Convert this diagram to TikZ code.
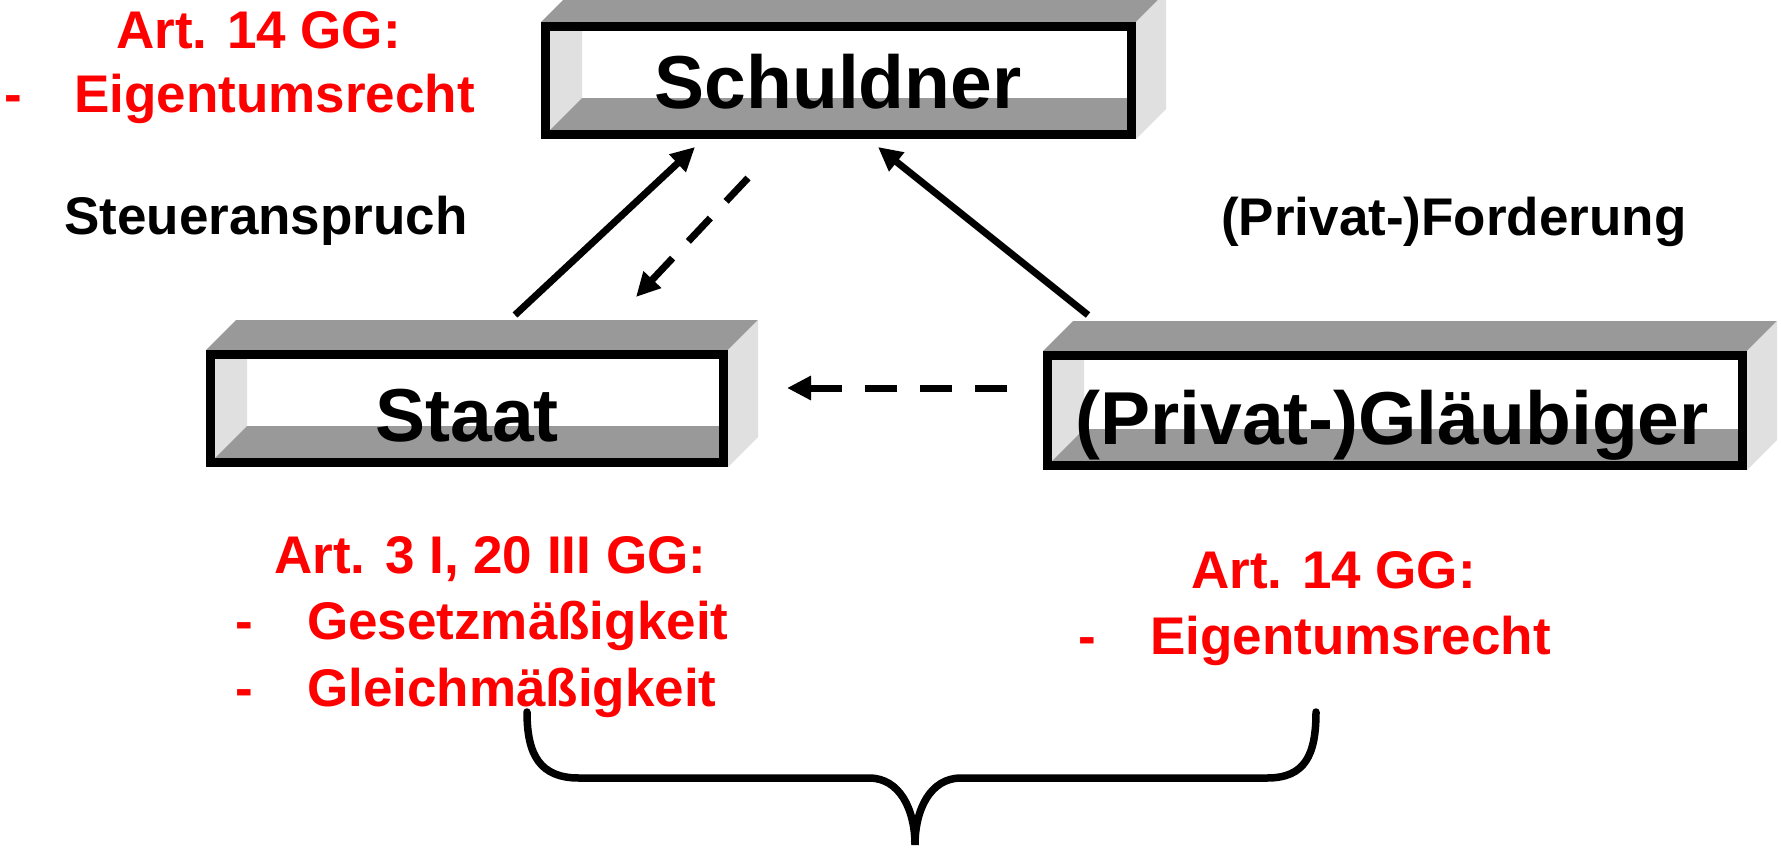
\documentclass[tikz,border=0pt]{standalone}
\usepackage{fontspec}
\setmainfont{Liberation Sans}
\usetikzlibrary{arrows.meta}
\definecolor{lawred}{RGB}{255,0,0}
\definecolor{facegray}{RGB}{153,153,153}
\definecolor{sidegray}{RGB}{224,224,224}

\tikzset{
  bigtxt/.style={font=\fontsize{75}{80}\selectfont\bfseries, inner sep=0pt, anchor=base},
  smalltxt/.style={font=\fontsize{53}{60}\selectfont\bfseries, inner sep=0pt, anchor=base west},
  redtxt/.style={smalltxt, text=lawred},
  frame/.style={draw=black, line width=9pt, inner sep=0pt},
  rel/.style={line width=7pt, -{Triangle[length=24pt,width=23pt]}},
  reldash/.style={rel, dash pattern=on 32pt off 23pt},
  bracket/.style={line width=7.5pt, line cap=round},
}

% open 3D crate: name, left, top, right, bottom, label x, label baseline, label
\newcommand\crate[8]{%
  \fill[facegray] (#2,#3) -- (#2+30,#3-30) -- (#4+30,#3-30) -- (#4,#3) -- cycle;
  \fill[sidegray] (#4,#3) -- (#4+30,#3-30) -- (#4+30,#5-30) -- (#4,#5) -- cycle;
  \fill[white] (#2,#3) rectangle (#4,#5);
  \fill[sidegray] (#2+9,#3+9) -- (#2+41,#3+9) -- (#2+41,#5-41) -- (#2+9,#5-9) -- cycle;
  \fill[facegray] (#2+9,#5-9) -- (#2+41,#5-41) -- (#4-9,#5-41) -- (#4-9,#5-9) -- cycle;
  \node[frame, minimum width={#4-#2-9}, minimum height={#5-#3-9}] (#1) at ({(#2+#4)/2},{(#3+#5)/2}) {};
  \node[bigtxt] (#1text) at (#6,#7) {#8};
}

\begin{document}
\begin{tikzpicture}[x=1pt,y=-1pt]
\useasboundingbox (0,0) rectangle (1781,847);
\clip (0,0) rectangle (1781,847);

\crate{schuldner}{541}{22}{1136}{139}{838}{108}{Schuldner}
\crate{staat}{206}{350}{728}{467}{467}{441}{Staat}
\crate{glaeubiger}{1043}{351}{1747}{470}{1392}{444}{(Privat-)Gläubiger}

% relations
\coordinate (stUp) at (515,315);
\coordinate (scL) at (695,147);
\coordinate (scD) at (748,178);
\coordinate (stR) at (636,297);
\coordinate (glUp) at (1088,315);
\coordinate (scR) at (878,147);
\coordinate (glL) at (1007,388);
\coordinate (stE) at (787,388);
\draw[rel] (stUp) -- (scL);
\draw[reldash] (scD) -- (stR);
\draw[rel] (glUp) -- (scR);
\draw[reldash] (glL) -- (stE);

% labels
\node[smalltxt] (steuer) at (64,234) {Steueranspruch};
\node[smalltxt] (forderung) at (1221,235) {(Privat-)Forderung};

\node[redtxt] (tlHead) at (116,48) {Art. 14 GG:};
\node[redtxt] (tlDash) at (4,112) {-};
\node[redtxt] (tlItem) at (74,112) {Eigentumsrecht};

\node[redtxt] (blHead) at (274,573) {Art. 3 I, 20 III GG:};
\node[redtxt] (blDashA) at (235,639) {-};
\node[redtxt] (blItemA) at (307,639) {Gesetzmäßigkeit};
\node[redtxt] (blDashB) at (235,706) {-};
\node[redtxt] (blItemB) at (307,706) {Gleichmäßigkeit};

\node[redtxt] (brHead) at (1191,588) {Art. 14 GG:};
\node[redtxt] (brDash) at (1078,654) {-};
\node[redtxt] (brItem) at (1150,654) {Eigentumsrecht};

% curly bracket joining both sides
\coordinate (bl) at (527,712);
\coordinate (br) at (1316,712);
\coordinate (tip) at (915,845);
\draw[bracket] (bl) .. controls (527,755) and (540,778) .. (579,778) -- (869,778)
  .. controls (900,778) and (915,810) .. (tip)
  .. controls (915,810) and (930,778) .. (961,778) -- (1267,778)
  .. controls (1305,778) and (1316,755) .. (br);
\end{tikzpicture}
\end{document}
